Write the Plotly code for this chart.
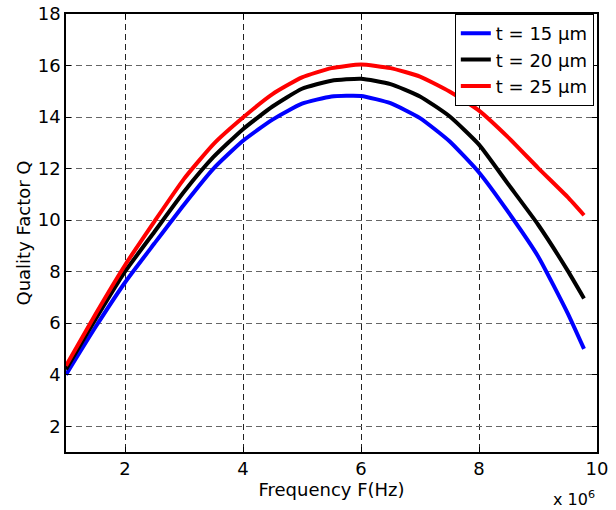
import plotly.graph_objects as go

freq = [1.0, 1.5, 2.0, 2.5, 3.0, 3.5, 4.0, 4.5, 5.0, 5.5, 6.0, 6.5, 7.0, 7.5, 8.0, 8.5, 9.0, 9.5, 9.78]
q_15 = [4.0, 5.85, 7.58, 9.1, 10.6, 12.0, 13.08, 13.9, 14.52, 14.8, 14.82, 14.54, 13.96, 13.06, 11.85, 10.3, 8.6, 6.4, 5.0]
q_20 = [4.2, 6.15, 8.0, 9.55, 11.1, 12.45, 13.53, 14.41, 15.1, 15.41, 15.49, 15.28, 14.8, 14.03, 12.93, 11.38, 9.83, 8.05, 6.96]
q_25 = [4.35, 6.35, 8.25, 9.95, 11.6, 12.95, 13.98, 14.89, 15.54, 15.9, 16.04, 15.9, 15.57, 14.99, 14.25, 13.2, 12.03, 10.9, 10.19]

names = ["t = 15 μm", "t = 20 μm", "t = 25 μm"]
colors = ["#0000ff", "#000000", "#ff0000"]
x_ticks = [2, 4, 6, 8, 10]
y_ticks = [2, 4, 6, 8, 10, 12, 14, 16, 18]

FAM = "DejaVu Sans, Liberation Sans, Arial, sans-serif"

fig = go.Figure()
for ys, n, c in zip([q_15, q_20, q_25], names, colors):
    fig.add_trace(go.Scatter(x=freq, y=ys, mode="lines", name=n,
                             line=dict(color=c, width=4, shape="spline", smoothing=0.5)))

font = dict(family=FAM, size=18, color="black")
axis_common = dict(showline=True, linecolor="black", linewidth=1.5, mirror="allticks",
                   ticks="inside", ticklen=5, tickcolor="black", tickwidth=1,
                   showgrid=True, griddash="6px,4px", gridwidth=1,
                   zeroline=False, tickfont=font, automargin=False)

fig.update_layout(
    template="none",
    width=616, height=510,
    margin=dict(l=66, r=19, t=14, b=58, pad=0),
    paper_bgcolor="white", plot_bgcolor="white",
    font=font,
    showlegend=True,
    legend=dict(x=0.994, y=1.0, xanchor="right", yanchor="top",
                bgcolor="white", bordercolor="black", borderwidth=1,
                font=dict(family=FAM, size=18, color="black"),
                itemwidth=30, tracegroupgap=0),
    xaxis=dict(range=[1, 10], tickvals=x_ticks, ticktext=[str(v) for v in x_ticks],
               gridcolor="#222222",
               title=dict(text="Frequency F(Hz)", font=font, standoff=4), **axis_common),
    yaxis=dict(range=[1, 18], tickvals=y_ticks, ticktext=[str(v) for v in y_ticks],
               gridcolor="#666666",
               title=dict(text="Quality Factor Q", font=font, standoff=2), **axis_common),
    annotations=[dict(text="x 10<sup>6</sup>", xref="paper", yref="paper",
                      x=1.0, y=-0.078, xanchor="right", yanchor="top",
                      showarrow=False, font=dict(family=FAM, size=16, color="black"))],
)

fig.write_html("out.html", config={"displayModeBar": False},
               post_script="document.body.style.margin='0';")
